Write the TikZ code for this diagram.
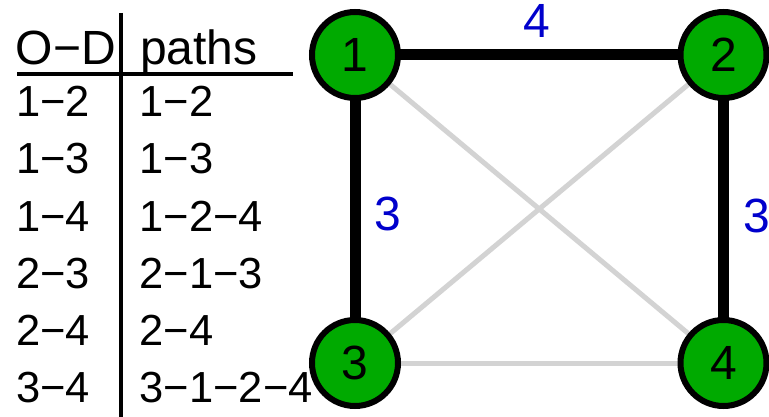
\documentclass[tikz,border=0pt]{standalone}
\usepackage{fontspec}
\setmainfont{Liberation Sans}
\usetikzlibrary{backgrounds}
\definecolor{nodegreen}{RGB}{0,170,0}
\definecolor{labblue}{RGB}{0,0,204}
\definecolor{edgegrey}{RGB}{211,211,211}
\begin{document}
\begin{tikzpicture}[x=1pt,y=-1pt,
  vertex/.style={circle,draw=black,line width=6pt,fill=nodegreen,minimum size=86pt,inner sep=0pt,font=\fontsize{48}{48}\selectfont},
  heavy/.style={line width=11pt,black},
  light/.style={line width=5pt,edgegrey},
  wlab/.style={text=labblue,font=\fontsize{48}{48}\selectfont,anchor=base,inner sep=0pt},
  tab/.style={font=\fontsize{43.5}{43.5}\selectfont,anchor=base west,inner sep=0pt},
  tabhead/.style={font=\fontsize{48}{48}\selectfont,anchor=base west,inner sep=0pt},
  rule/.style={line width=3.2pt,black}]
\useasboundingbox (0,0) rectangle (769,417);
% table
\node[tabhead] (hOD) at (15.7,65) {O−D};
\node[tabhead] (hP) at (139.8,65) {paths};
\node[tab] (a1) at (16,117) {1−2};   \node[tab] (b1) at (139.5,117) {1−2};
\node[tab] (a2) at (16,174) {1−3};   \node[tab] (b2) at (139.5,174) {1−3};
\node[tab] (a3) at (16,231) {1−4};   \node[tab] (b3) at (139.5,231) {1−2−4};
\node[tab] (a4) at (16,288) {2−3};   \node[tab] (b4) at (139.5,288) {2−1−3};
\node[tab] (a5) at (16,345) {2−4};   \node[tab] (b5) at (139.5,345) {2−4};
\node[tab] (a6) at (16,402) {3−4};   \node[tab] (b6) at (139.5,402) {3−1−2−4};
\coordinate (hl) at (17,74);
\coordinate (hr) at (293,74);
\coordinate (vt) at (121,13);
\coordinate (vb) at (121,417);
\draw[rule] (hl) -- (hr);
\draw[rule] (vt) -- (vb);
% graph
\node[vertex] (n1) at (355,55) {1};
\node[vertex] (n2) at (723.5,55) {2};
\node[vertex] (n3) at (355,363) {3};
\node[vertex] (n4) at (723.5,363) {4};
\begin{scope}[on background layer]
\draw[light] (n1.center) -- (n4.center);
\draw[light] (n2.center) -- (n3.center);
\draw[light] (n3.center) -- (n4.center);
\draw[heavy] (n1.center) -- (n2.center);
\draw[heavy] (n1.center) -- (n3.center);
\draw[heavy] (n2.center) -- (n4.center);
\end{scope}
\node[wlab] (w12) at (537,38) {4};
\node[wlab] (w13) at (387.5,230) {3};
\node[wlab] (w24) at (757,233) {3};
\end{tikzpicture}
\end{document}
